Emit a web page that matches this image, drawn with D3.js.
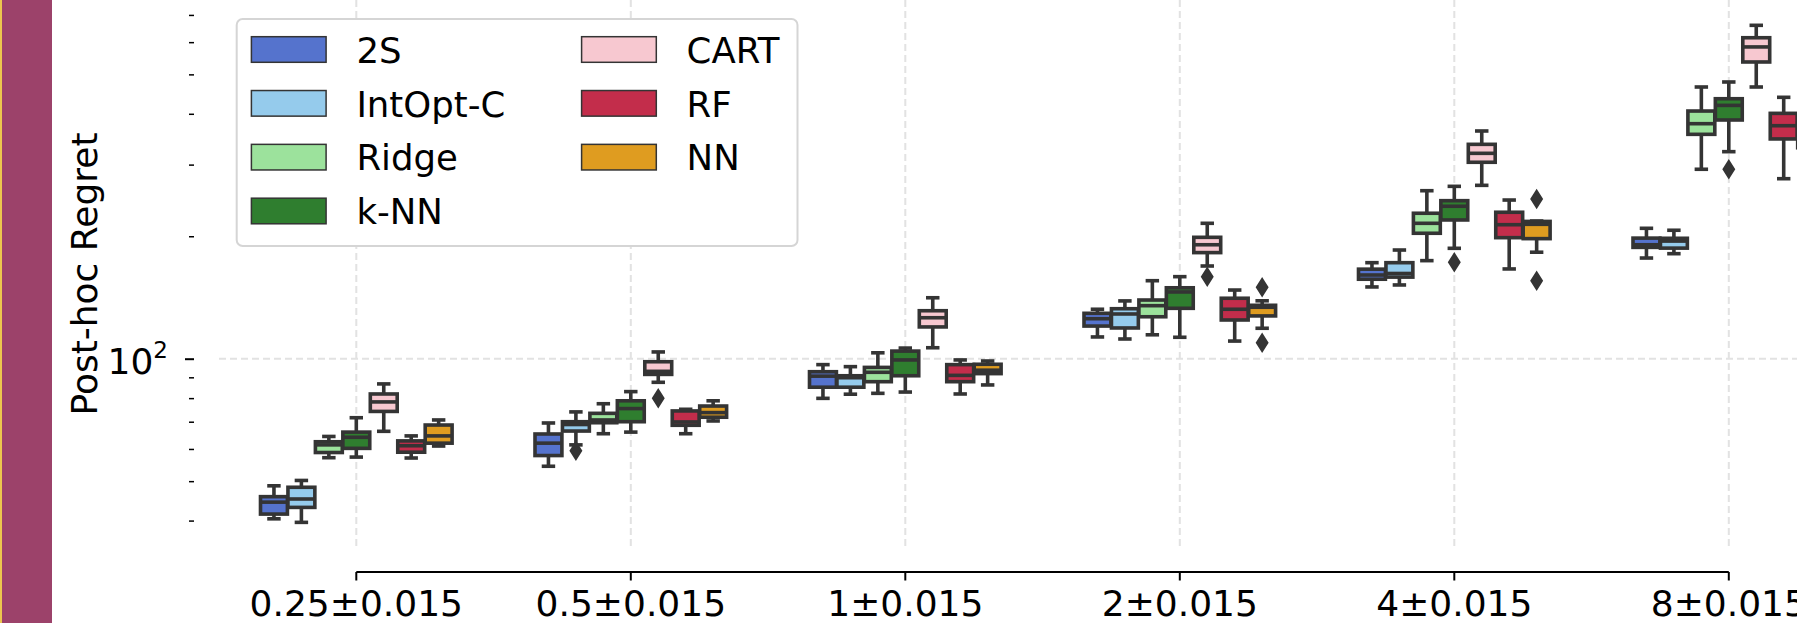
<!DOCTYPE html>
<html>
<head>
<meta charset="utf-8">
<script src="https://cdn.jsdelivr.net/npm/d3@7"></script>
<style>
    body { margin: 0; background: #fff; }
    svg { display: block; font-family: "DejaVu Sans", sans-serif; }
</style>
</head>
<body>
<div id="chart-area"></div>
<script>
// categories on the x axis and the methods (hue)
var categories = ["0.25±0.015", "0.5±0.015", "1±0.015", "2±0.015", "4±0.015", "8±0.015"];
var methods = ["2S", "IntOpt-C", "Ridge", "k-NN", "CART", "RF", "NN"];
var baseColors = ["royalblue", "lightskyblue", "lightgreen", "forestgreen", "pink", "crimson", "orange"];

// box stats, one row per category, one value per method (same order as methods)
var whiskerLow = [
    [40.4, 39.6, 57.1, 57.3, 66.3, 57.0, 61.0],
    [54.4, 61.4, 65.4, 66.0, 87.5, 65.4, 70.3],
    [79.9, 81.8, 82.2, 82.8, 106.4, 81.9, 86.2],
    [113.1, 111.8, 114.5, 112.9, 169.0, 110.5, 118.8],
    [150.1, 151.8, 174.2, 186.8, 266.8, 166.2, 182.7],
    [176.8, 181.2, 292.2, 322.8, 465.5, 277.0, 300.0]
];
var q1 = [
    [41.5, 43.1, 58.8, 60.2, 74.2, 58.9, 62.0],
    [57.8, 66.4, 69.6, 70.0, 91.5, 68.6, 71.8],
    [85.1, 85.1, 87.8, 90.8, 119.7, 87.8, 91.9],
    [120.3, 119.0, 126.8, 133.0, 182.3, 124.5, 127.4],
    [156.8, 158.7, 203.4, 219.3, 304.0, 198.4, 197.3],
    [187.8, 187.0, 356.1, 386.2, 536.3, 346.9, 330.0]
];
var median = [
    [44.4, 45.2, 61.4, 64.1, 78.3, 61.1, 64.6],
    [62.0, 68.9, 70.7, 75.4, 93.1, 69.9, 73.7],
    [90.6, 89.8, 92.6, 99.3, 126.1, 91.0, 93.7],
    [125.4, 128.8, 135.0, 145.9, 190.6, 132.3, 133.8],
    [160.6, 162.0, 215.2, 237.0, 319.8, 213.5, 214.0],
    [190.6, 194.6, 378.2, 419.5, 584.0, 373.9, 350.0]
];
var q3 = [
    [45.8, 48.3, 62.5, 66.0, 81.9, 62.8, 68.7],
    [65.3, 70.0, 73.4, 78.8, 98.3, 74.4, 76.5],
    [92.9, 90.8, 95.2, 104.4, 131.2, 96.7, 96.9],
    [129.3, 132.7, 139.4, 149.4, 198.8, 140.8, 135.3],
    [166.0, 172.2, 227.8, 244.6, 336.5, 229.1, 217.5],
    [197.9, 197.7, 406.3, 435.6, 615.2, 401.0, 380.0]
];
var whiskerHigh = [
    [48.7, 50.2, 64.4, 71.6, 86.7, 64.6, 70.7],
    [69.5, 74.0, 77.5, 83.0, 103.9, 75.1, 78.8],
    [96.7, 95.6, 103.4, 106.2, 141.2, 99.3, 98.7],
    [132.3, 138.7, 155.5, 159.1, 215.2, 147.5, 138.8],
    [172.2, 185.0, 258.8, 265.3, 362.9, 245.5, 218.0],
    [209.2, 206.9, 465.5, 478.9, 660.0, 439.1, 420.0]
];
// outliers: [category index, method, value]
var outliers = [
    [1, "IntOpt-C", 59.4],
    [1, "CART", 79.9],
    [3, "CART", 159.1],
    [3, "NN", 149.8],
    [3, "NN", 109.5],
    [4, "k-NN", 172.6],
    [4, "NN", 246.9],
    [4, "NN", 155.5],
    [5, "k-NN", 292.2]
];
var yMinor = [40, 50, 60, 70, 80, 90, 200, 300, 400, 500, 600, 700];

var width = 1797, height = 623;
var gray = "#343434";

// seaborn-like desaturated palette
var colors = baseColors.map(function(c) {
    var h = d3.hsl(c);
    h.s = h.s * 0.75;
    return h.formatHex();
});
var color = d3.scaleOrdinal().domain(methods).range(colors);

var svg = d3.select("#chart-area")
    .append("svg")
    .attr("width", width)
    .attr("height", height);

// left decoration band
svg.append("rect").attr("x", 0).attr("y", 0).attr("width", 52).attr("height", height).attr("fill", "#9c426a");
svg.append("rect").attr("x", 0).attr("y", 0).attr("width", 2).attr("height", height).attr("fill", "#ecc64e");

var x = d3.scaleBand()
    .domain(categories)
    .range([219.05, 1866.05]);

var xHue = d3.scaleBand()
    .domain(methods)
    .range([-0.35 * x.bandwidth(), 0.35 * x.bandwidth()]);

var boxW = xHue.bandwidth() * 0.98;

var y = d3.scaleLog()
    .domain([34.64, 761.7])
    .range([546, 0]);

// grid
var grid = svg.append("g").attr("stroke", "#e2e2e2").attr("stroke-width", 2).attr("stroke-dasharray", "7,4");
grid.selectAll("line.v")
    .data(categories)
    .enter()
    .append("line")
    .attr("x1", function(d) { return x(d) + x.bandwidth() / 2; })
    .attr("x2", function(d) { return x(d) + x.bandwidth() / 2; })
    .attr("y1", 0)
    .attr("y2", 546);
grid.append("line")
    .attr("x1", 219)
    .attr("x2", width)
    .attr("y1", y(100))
    .attr("y2", y(100));

// boxes
var boxes = [];
categories.forEach(function(cat, i) {
    methods.forEach(function(m, j) {
        boxes.push({
            cat: cat, method: m,
            lo: whiskerLow[i][j], q1: q1[i][j], med: median[i][j], q3: q3[i][j], hi: whiskerHigh[i][j]
        });
    });
});

function cx(cat, m) {
    return x(cat) + x.bandwidth() / 2 + xHue(m) + xHue.bandwidth() / 2;
}

var g = svg.selectAll("g.box")
    .data(boxes)
    .enter()
    .append("g")
    .attr("class", "box")
    .attr("stroke", gray)
    .attr("stroke-width", 3.6);

g.append("rect")
    .attr("x", function(d) { return cx(d.cat, d.method) - boxW / 2; })
    .attr("y", function(d) { return y(d.q3); })
    .attr("width", boxW)
    .attr("height", function(d) { return y(d.q1) - y(d.q3); })
    .attr("fill", function(d) { return color(d.method); });

g.append("line")
    .attr("x1", function(d) { return cx(d.cat, d.method) - boxW / 2; })
    .attr("x2", function(d) { return cx(d.cat, d.method) + boxW / 2; })
    .attr("y1", function(d) { return y(d.med); })
    .attr("y2", function(d) { return y(d.med); });

// whiskers
g.append("line")
    .attr("x1", function(d) { return cx(d.cat, d.method); })
    .attr("x2", function(d) { return cx(d.cat, d.method); })
    .attr("y1", function(d) { return y(d.q3); })
    .attr("y2", function(d) { return y(d.hi); });
g.append("line")
    .attr("x1", function(d) { return cx(d.cat, d.method); })
    .attr("x2", function(d) { return cx(d.cat, d.method); })
    .attr("y1", function(d) { return y(d.q1); })
    .attr("y2", function(d) { return y(d.lo); });

// caps
g.append("line")
    .attr("x1", function(d) { return cx(d.cat, d.method) - boxW / 4; })
    .attr("x2", function(d) { return cx(d.cat, d.method) + boxW / 4; })
    .attr("y1", function(d) { return y(d.hi); })
    .attr("y2", function(d) { return y(d.hi); });
g.append("line")
    .attr("x1", function(d) { return cx(d.cat, d.method) - boxW / 4; })
    .attr("x2", function(d) { return cx(d.cat, d.method) + boxW / 4; })
    .attr("y1", function(d) { return y(d.lo); })
    .attr("y2", function(d) { return y(d.lo); });

// fliers (thin diamonds)
svg.selectAll("path.flier")
    .data(outliers)
    .enter()
    .append("path")
    .attr("class", "flier")
    .attr("d", "M0,-8.2L5.2,0L0,8.2L-5.2,0Z")
    .attr("transform", function(d) {
        return "translate(" + cx(categories[d[0]], d[1]) + "," + y(d[2]) + ")";
    })
    .attr("fill", gray)
    .attr("stroke", gray)
    .attr("stroke-width", 2.2);

// y axis: minor ticks
var yMinorAxis = svg.append("g")
    .attr("transform", "translate(194,0)")
    .call(d3.axisLeft(y).tickValues(yMinor).tickSize(5).tickFormat(""));
yMinorAxis.select(".domain").remove();
yMinorAxis.selectAll("line").attr("stroke", "#000").attr("stroke-width", 1.5);

// y axis: major tick 10^2
var yMajorAxis = svg.append("g")
    .attr("transform", "translate(194,0)")
    .call(d3.axisLeft(y).tickValues([100]).tickSize(9).tickPadding(17).tickFormat(function() { return "10"; }));
yMajorAxis.select(".domain").remove();
yMajorAxis.selectAll("line").attr("stroke", "#000").attr("stroke-width", 2);
yMajorAxis.selectAll("text")
    .attr("font-size", 36)
    .attr("font-family", "DejaVu Sans")
    .attr("fill", "#000")
    .attr("dy", null)
    .attr("y", 14.8)
    .append("tspan")
    .attr("dy", -15.9)
    .attr("font-size", 23)
    .text("2");

// x axis
var xAxis = svg.append("g")
    .attr("transform", "translate(0,572)")
    .call(d3.axisBottom(x).tickSize(8.5));
xAxis.select(".domain").remove();
xAxis.selectAll("line").attr("stroke", "#000").attr("stroke-width", 2);
xAxis.selectAll("text")
    .attr("font-size", 36)
    .attr("font-family", "DejaVu Sans")
    .attr("fill", "#000")
    .attr("dy", null)
    .attr("y", 44);
xAxis.append("line")
    .attr("x1", x(categories[0]) + x.bandwidth() / 2)
    .attr("x2", x(categories[categories.length - 1]) + x.bandwidth() / 2)
    .attr("y1", 0)
    .attr("y2", 0)
    .attr("stroke", "#000")
    .attr("stroke-width", 2);

// y label
svg.append("text")
    .attr("transform", "rotate(-90)")
    .attr("x", -274)
    .attr("y", 97)
    .attr("text-anchor", "middle")
    .attr("font-size", 36)
    .text("Post-hoc Regret");

// legend
var legend = svg.append("g");
legend.append("rect")
    .attr("x", 236.7)
    .attr("y", 19)
    .attr("width", 560.8)
    .attr("height", 227)
    .attr("rx", 6)
    .attr("fill", "#fff")
    .attr("stroke", "#d5d5d5")
    .attr("stroke-width", 2);

var items = legend.selectAll("g.item")
    .data(methods)
    .enter()
    .append("g")
    .attr("class", "item")
    .attr("transform", function(d, i) {
        var col = Math.floor(i / 4), row = i % 4;
        return "translate(" + (251.4 + col * 330.2) + "," + (36.7 + row * 53.83) + ")";
    });
items.append("rect")
    .attr("width", 74.7)
    .attr("height", 25.6)
    .attr("fill", function(d) { return color(d); })
    .attr("stroke", gray)
    .attr("stroke-width", 1.5);
items.append("text")
    .attr("x", 105)
    .attr("y", 26)
    .attr("font-size", 35.5)
    .text(function(d) { return d; });
</script>
</body>
</html>
